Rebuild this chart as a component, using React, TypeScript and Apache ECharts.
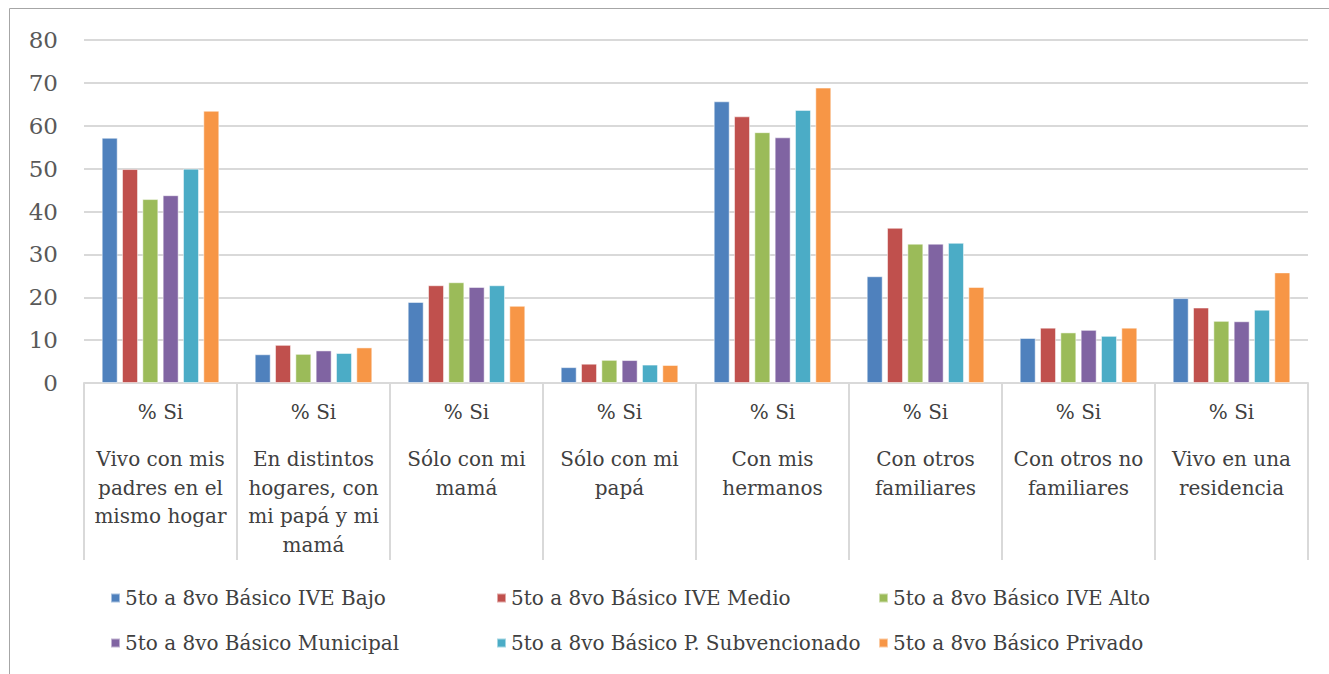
import React, { useEffect, useRef } from "react";
import * as echarts from "echarts";

const categories = [
  "Vivo con mis\npadres en el\nmismo hogar",
  "En distintos\nhogares, con\nmi papá y mi\nmamá",
  "Sólo con mi\nmamá",
  "Sólo con mi\npapá",
  "Con mis\nhermanos",
  "Con otros\nfamiliares",
  "Con otros no\nfamiliares",
  "Vivo en una\nresidencia",
];

const seriesNames = [
  "5to a 8vo Básico IVE Bajo",
  "5to a 8vo Básico IVE Medio",
  "5to a 8vo Básico IVE Alto",
  "5to a 8vo Básico Municipal",
  "5to a 8vo Básico P. Subvencionado",
  "5to a 8vo Básico Privado",
];

const ivBajo = [57.2, 6.7, 18.9, 3.7, 65.7, 24.9, 10.5, 19.8];
const ivMedio = [49.9, 8.9, 22.8, 4.5, 62.2, 36.2, 12.9, 17.6];
const ivAlto = [42.9, 6.8, 23.5, 5.4, 58.5, 32.5, 11.8, 14.5];
const municipal = [43.8, 7.6, 22.4, 5.35, 57.3, 32.5, 12.4, 14.4];
const subvencionado = [50.0, 7.0, 22.8, 4.3, 63.7, 32.7, 11.0, 17.1];
const privado = [63.5, 8.3, 18.0, 4.2, 68.9, 22.4, 12.9, 25.8];

const seriesData = [ivBajo, ivMedio, ivAlto, municipal, subvencionado, privado];
const colors = ["#4F81BD", "#C0504D", "#9BBB59", "#8064A2", "#4BACC6", "#F79646"];

const legendCols = [110, 496, 878];
const legendRows = [587, 632];

export default function App() {
  const ref = useRef<HTMLDivElement>(null);

  useEffect(() => {
    if (!ref.current) return;
    const chart = echarts.init(ref.current, null, { renderer: "svg" });
    const font = "DejaVu Serif";

    const legends = seriesNames.map((name, i) => ({
      data: [name],
      left: legendCols[i % 3],
      top: legendRows[Math.floor(i / 3)],
      icon: "rect",
      itemWidth: 9,
      itemHeight: 9,
      itemGap: 0,
      padding: 0,
      selectedMode: false,
      textStyle: { fontFamily: font, fontSize: 20, color: "#404040", lineHeight: 22 },
    }));

    chart.setOption({
      animation: false,
      color: colors,
      grid: { left: 84, right: 21, top: 40, bottom: 291, containLabel: false },
      legend: legends,
      graphic: [
        { type: "line", shape: { x1: 9.5, y1: 8.5, x2: 1329, y2: 8.5 }, style: { stroke: "#a6a6a6", lineWidth: 1 } },
        { type: "line", shape: { x1: 9.5, y1: 8.5, x2: 9.5, y2: 674 }, style: { stroke: "#a6a6a6", lineWidth: 1 } },
      ],
      xAxis: {
        type: "category",
        data: categories,
        boundaryGap: true,
        axisLine: { show: true, lineStyle: { color: "#d9d9d9", width: 2 } },
        axisTick: { show: true, length: 177, alignWithLabel: false, lineStyle: { color: "#d9d9d9", width: 2 } },
        axisLabel: {
          interval: 0,
          margin: 15,
          formatter: (v: string) =>
            "{a|% Si}\n{g| }\n" + v.split("\n").map((l) => "{b|" + l + "}").join("\n"),
          rich: {
            a: { fontFamily: font, fontSize: 20, color: "#404040", lineHeight: 28.5 },
            g: { fontFamily: font, fontSize: 10, lineHeight: 18.5 },
            b: { fontFamily: font, fontSize: 20, color: "#404040", lineHeight: 28.5 },
          },
        },
      },
      yAxis: {
        type: "value",
        min: 0,
        max: 80,
        interval: 10,
        axisLine: { show: false },
        axisTick: { show: false },
        splitLine: { lineStyle: { color: "#d9d9d9", width: 2 } },
        axisLabel: { fontFamily: font, fontSize: 23, color: "#595959", margin: 26 },
      },
      series: seriesNames.map((name, i) => ({
        name,
        type: "bar",
        data: seriesData[i],
        barWidth: 16,
        barGap: "27%",
        itemStyle: { color: colors[i], borderColor: "rgba(255,255,255,0.5)", borderWidth: 1 },
      })),
    });

    return () => chart.dispose();
  }, []);

  return (
    <div
      ref={ref}
      style={{ position: "fixed", left: 0, top: 0, width: 1329, height: 674, background: "#fff" }}
    />
  );
}
